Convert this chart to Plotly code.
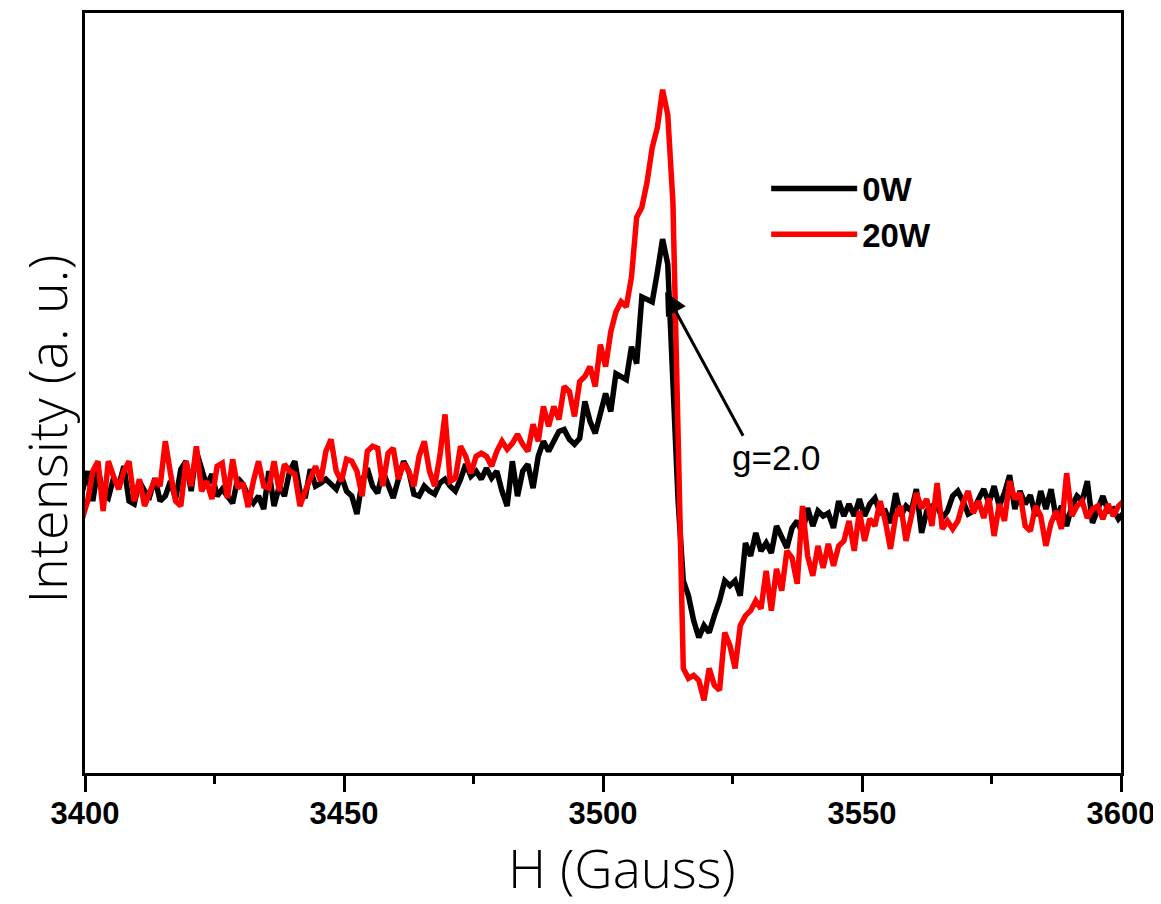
import numpy as np
import plotly.graph_objects as go

# Magnetic field (Gauss), sampled every 1 G
field = np.arange(3399.5, 3601.0, 1.0)

# EPR intensity (a. u.)
intensity_0w = [
    10, 30, 0, 33, 7, 3, 23, 15, 35, 0,
    -3, 20, 10, 5, 23, 0, 5, 20, 2, 32,
    40, 10, 50, 30, 15, 27, 5, 12, 5, -2,
    23, 17, 5, -2, 5, -8, 30, -5, 15, 5,
    30, 40, 10, 3, 32, 15, 18, 22, 17, 12,
    25, 10, 5, -13, 20, 33, 15, 8, 30, 15,
    3, 22, 40, 30, 7, 5, 15, 10, 7, 18,
    22, 15, 10, 22, 37, 25, 30, 22, 33, 23,
    30, 10, -5, 40, 5, 30, 37, 13, 45, 60,
    50, 60, 70, 72, 62, 57, 63, 100, 80, 68,
    87, 108, 90, 128, 125, 122, 155, 138, 205, 202,
    200, 230, 263, 238, 120, 0, -80, -95, -120, -137,
    -125, -132, -115, -100, -80, -85, -80, -95, -42, -55,
    -32, -50, -42, -52, -25, -35, -47, -27, -20, -33,
    -7, -25, -10, -15, -12, -27, 0, -15, -3, -15,
    2, -15, -3, 3, -12, -10, -22, 8, -15, -5,
    -10, 12, -32, -10, -5, -5, -17, -10, 5, 10,
    0, -13, -10, 2, 12, -2, 15, -5, 8, 26,
    -8, 10, -3, 6, -15, 10, -8, 12, -18, -5,
    -25, -5, 5, 0, 20, -22, -10, 5, -10, -8,
    -18, -12,
]

intensity_20w = [
    -17, 0, 30, 40, -10, 40, 25, 12, 30, 40,
    0, 22, -5, 8, 22, 15, 60, 28, 0, -5,
    40, 15, 55, 10, 20, 2, 35, 38, 3, 42,
    13, 18, -6, 20, 40, 15, 13, 40, 10, 37,
    30, 27, -5, 10, 23, 35, 20, 50, 62, 30,
    20, 42, 40, 30, 5, 50, 55, 53, 15, 48,
    53, 22, 38, 30, 15, 45, 60, 30, 15, 45,
    87, 20, 23, 55, 45, 28, 45, 48, 45, 35,
    50, 60, 52, 58, 67, 57, 50, 77, 60, 95,
    75, 95, 82, 115, 110, 85, 120, 125, 135, 115,
    157, 135, 170, 190, 200, 195, 225, 285, 295, 320,
    355, 375, 413, 388, 300, 70, -168, -178, -175, -180,
    -200, -168, -185, -190, -132, -145, -168, -125, -115, -110,
    -100, -108, -70, -110, -68, -90, -50, -57, -83, -5,
    -55, -75, -45, -67, -43, -65, -45, -40, -20, -50,
    -10, -40, -18, -25, 0, -20, -48, -15, -5, -40,
    -18, 8, -7, 2, -25, 18, -28, -20, -28, -20,
    -2, 10, -12, 0, -17, 3, -35, -3, -20, 20,
    2, 8, -25, -30, -5, -15, -45, -22, -10, -28,
    28, -15, -5, 0, -17, -8, -5, -18, -3, -15,
    -5, 0,
]

series_names = ["0W", "20W"]
series_colors = ["#000000", "#ff0000"]
x_ticks = [3400, 3450, 3500, 3550, 3600]

fig = go.Figure()
for name, color, vals in zip(series_names, series_colors, [intensity_0w, intensity_20w]):
    fig.add_trace(go.Scatter(
        x=field, y=vals, mode="lines", name=name,
        line=dict(color=color, width=5.5),
    ))

# g = 2.0 arrow and label
fig.add_annotation(
    x=3512.0, y=210, ax=3527.2, ay=64, axref="x", ayref="y",
    xref="x", yref="y", text="", showarrow=True,
    arrowhead=2, arrowsize=1.5, arrowwidth=3, arrowcolor="black",
)
fig.add_annotation(
    x=3533.4, y=44, xref="x", yref="y", text="g=2.0", showarrow=False,
    font=dict(family="Liberation Sans, Arial", size=35, color="black"),
)

# axis titles
title_font = dict(family="Open Sans", color="black", weight=300)
fig.add_annotation(
    x=0.518, y=-0.124, xref="paper", yref="paper", text="H (Gauss)",
    showarrow=False, xanchor="center", yanchor="middle",
    font=dict(size=53, **title_font),
)
fig.add_annotation(
    x=-0.0376, y=0.452, xref="paper", yref="paper", text="Intensity (a. u.)",
    showarrow=False, xanchor="center", yanchor="middle", textangle=-90,
    font=dict(size=54, **title_font),
)

fig.update_layout(
    width=1153, height=896,
    paper_bgcolor="white", plot_bgcolor="white",
    margin=dict(l=77, r=40, t=2, b=131),
    showlegend=True,
    legend=dict(
        x=0.6575, y=0.806, xanchor="left", yanchor="top",
        font=dict(family="Liberation Sans, Arial", size=33, color="black", weight="bold"),
        bgcolor="rgba(0,0,0,0)", itemwidth=86, tracegroupgap=0,
    ),
    xaxis=dict(
        range=[3400, 3600], tickvals=x_ticks, ticktext=[str(t) for t in x_ticks],
        ticks="outside", ticklen=16, tickwidth=2.5, tickcolor="black",
        ticklabelstandoff=-5,
        minor=dict(dtick=25, tick0=3400, ticks="outside", ticklen=8, tickwidth=2.5, tickcolor="black"),
        showline=True, linewidth=2.5, linecolor="black", mirror=True,
        showgrid=False, zeroline=False,
        tickfont=dict(family="Liberation Sans, Arial", size=31, color="black", weight="bold"),
    ),
    yaxis=dict(
        range=[-273, 490], showticklabels=False, ticks="",
        showline=True, linewidth=2.5, linecolor="black", mirror=True,
        showgrid=False, zeroline=False,
    ),
)

fig.write_html("out.html")
